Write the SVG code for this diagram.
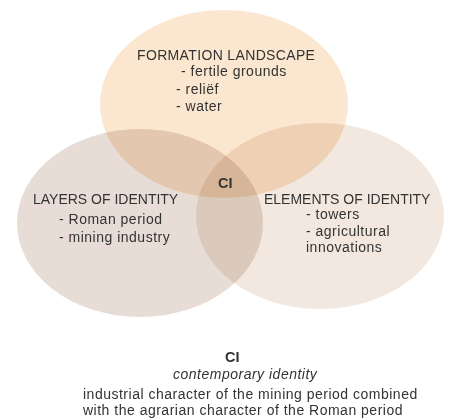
<svg xmlns="http://www.w3.org/2000/svg" width="449" height="420" viewBox="0 0 449 420">
<style>
.c{mix-blend-mode:multiply}
text{font-family:"Liberation Sans",Arial,sans-serif;font-size:14px;fill:#333}
.l{letter-spacing:0.5px}
.b{font-weight:bold}
.i{font-style:italic}
</style>
<rect width="449" height="420" fill="#fff"/>
<g id="connectors"></g>
<g id="layers">
<ellipse class="c" cx="140" cy="223" rx="123" ry="94" fill="#e7ddd6"/>
</g>
<g id="elements">
<ellipse class="c" cx="320" cy="216" rx="124" ry="93" fill="#f2e8df"/>
</g>
<g id="formation">
<ellipse class="c" cx="224" cy="104" rx="124" ry="94" fill="#fbe6cf"/>
</g>
<g id="formation-text">
<text x="137" y="60" style="letter-spacing:0.35px">FORMATION LANDSCAPE</text>
<text class="l" x="181" y="76">- fertile grounds</text>
<text class="l" x="176" y="94">- reliëf</text>
<text class="l" x="176" y="111">- water</text>
</g>
<g id="layers-text">
<text x="33" y="204">LAYERS OF IDENTITY</text>
<text class="l" x="59" y="224">- Roman period</text>
<text class="l" x="59" y="242">- mining industry</text>
</g>
<g id="elements-text">
<text x="264" y="204">ELEMENTS OF IDENTITY</text>
<text class="l" x="306" y="219">- towers</text>
<text class="l" x="306" y="236">- agricultural</text>
<text class="l" x="306" y="252">innovations</text>
</g>
<g id="ci">
<text class="b" x="218" y="188" style="font-size:14.5px">CI</text>
</g>
<g id="legend">
<text class="b" x="225" y="362" style="font-size:14.5px">CI</text>
<text class="i l" x="173" y="379">contemporary identity</text>
<text class="l" x="83" y="399">industrial character of the mining period combined</text>
<text class="l" x="83" y="415">with the agrarian character of the Roman period</text>
</g>
</svg>
